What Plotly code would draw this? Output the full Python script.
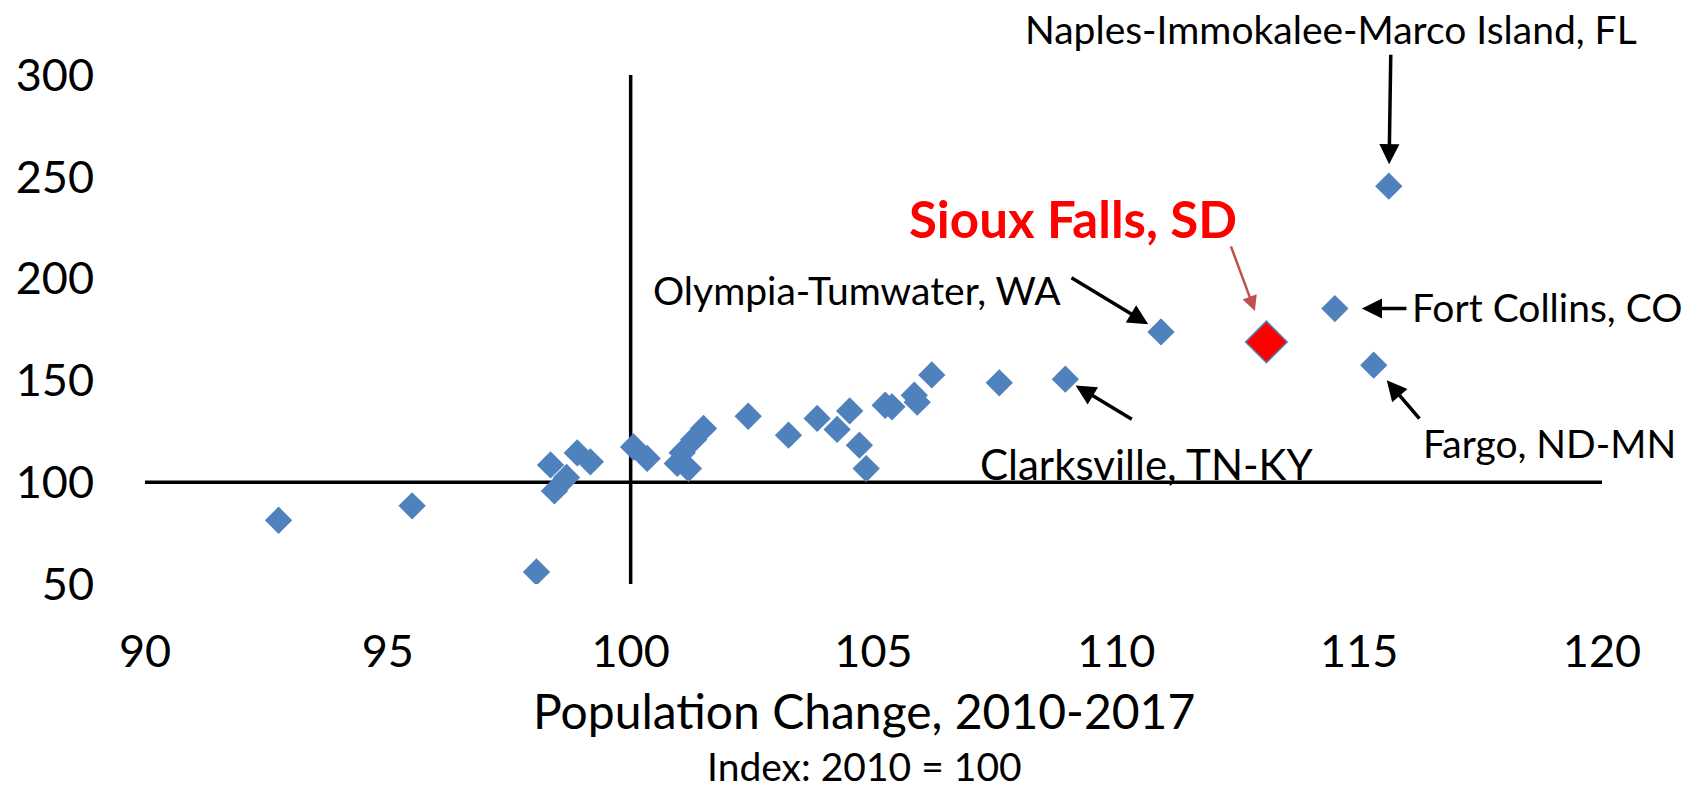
import plotly.graph_objects as go

# ---- data ----
pop_change = [92.75, 95.5, 98.06, 98.35, 98.43, 98.68, 98.9, 99.17, 100.06, 100.34,
              100.96, 101.06, 101.19, 101.3, 101.5, 102.42, 103.25, 103.84, 104.25,
              104.51, 104.71, 104.85, 105.24, 105.38, 105.84, 105.9, 106.2, 107.59,
              108.95, 110.92, 114.5, 115.3, 115.61]
metric_index = [81.3, 88.4, 55.9, 108.5, 95.7, 102.3, 114.4, 110.0, 117.3, 111.7,
                109.2, 114.5, 106.7, 121.0, 126.4, 132.4, 123.1, 131.3, 125.9,
                135.0, 118.2, 106.7, 137.8, 137.0, 142.7, 139.3, 152.7, 148.8,
                150.6, 173.8, 185.3, 157.5, 245.4]

sioux_x = [113.09]
sioux_y = [168.9]

x_ticks = [90, 95, 100, 105, 110, 115, 120]
y_ticks = [50, 100, 150, 200, 250, 300]
x_range = [90, 120]
y_range = [50, 300]
cross_x = 100
cross_y = 100

# labelled metros: name, point x, point y
label_names = ["Naples-Immokalee-Marco Island, FL", "Olympia-Tumwater, WA",
               "Fort Collins, CO", "Fargo, ND-MN", "Clarksville, TN-KY"]
label_pt_x = [115.61, 110.92, 114.5, 115.3, 108.95]
label_pt_y = [245.4, 173.8, 185.3, 157.5, 150.6]

FONT = "Lato, 'Open Sans', sans-serif"
BLUE = "#4F81BD"

fig = go.Figure()
fig.add_trace(go.Scatter(
    x=pop_change, y=metric_index, mode="markers",
    marker=dict(symbol="diamond", size=21, color=BLUE, line=dict(width=0)),
    hoverinfo="skip", showlegend=False))
fig.add_trace(go.Scatter(
    x=sioux_x, y=sioux_y, mode="markers",
    marker=dict(symbol="diamond", size=32, color="#FF0000",
                line=dict(color=BLUE, width=1.5)),
    hoverinfo="skip", showlegend=False))

# crossing axis lines
fig.add_shape(type="line", x0=cross_x, x1=cross_x, y0=y_range[0], y1=y_range[1],
              xref="x", yref="y", line=dict(color="black", width=3.5), layer="below")
fig.add_shape(type="line", x0=x_range[0], x1=x_range[1], y0=cross_y, y1=cross_y,
              xref="x", yref="y", line=dict(color="black", width=3.5), layer="below")

# arrows (pixel offsets of tails, standoff from point)
arrow_ax = [2, -91, 73, 47, 68]
arrow_ay = [-133, -55, 0, 55, 41]
arrow_standoff = [22, 15, 27, 20, 12]
for px, py, ax, ay, so in zip(label_pt_x, label_pt_y, arrow_ax, arrow_ay, arrow_standoff):
    fig.add_annotation(x=px, y=py, xref="x", yref="y", ax=ax, ay=ay, text="",
                       showarrow=True, arrowhead=2, arrowsize=1.15, arrowwidth=3.5,
                       arrowcolor="black", standoff=so)
fig.add_annotation(x=sioux_x[0], y=sioux_y[0], xref="x", yref="y", ax=-36, ay=-97,
                   text="", showarrow=True, arrowhead=2, arrowsize=1.2, arrowwidth=2.5,
                   arrowcolor="#C0504D", standoff=33)

# label texts (positions in paper units)
text_x = [0.8140, 0.4887, 0.8682, 0.8760, 0.5717]
text_y = [1.0904, 0.5776, 0.5442, 0.2770, 0.2348]
text_anchor = ["center", "center", "left", "left", "left"]
text_size = [39, 39, 39, 39, 42]
for name, tx, ty, an, fs in zip(label_names, text_x, text_y, text_anchor, text_size):
    fig.add_annotation(x=tx, y=ty, xref="paper", yref="paper", text=name,
                       showarrow=False, xanchor=an, yanchor="middle",
                       font=dict(family=FONT, size=fs, color="black"))
fig.add_annotation(x=0.6372, y=0.7171, xref="paper", yref="paper",
                   text="<b>Sioux Falls, SD</b>",
                   showarrow=False, xanchor="center", yanchor="middle",
                   font=dict(family=FONT, size=51, color="#FF0000"))

# axis titles
fig.add_annotation(x=0.4935, y=-0.2495, xref="paper", yref="paper",
                   text="Population Change, 2010-2017", showarrow=False,
                   xanchor="center", yanchor="middle",
                   font=dict(family=FONT, size=48, color="black"))
fig.add_annotation(x=0.4935, y=-0.3575, xref="paper", yref="paper",
                   text="Index: 2010 = 100", showarrow=False,
                   xanchor="center", yanchor="middle",
                   font=dict(family=FONT, size=39, color="black"))

fig.update_layout(
    width=1692, height=792,
    margin=dict(l=145, r=90, t=75, b=208),
    paper_bgcolor="white", plot_bgcolor="white",
    showlegend=False,
    xaxis=dict(range=x_range, tickvals=x_ticks, showgrid=False, zeroline=False,
               showline=False, ticks="", ticklabelstandoff=37,
               tickfont=dict(family=FONT, size=45, color="black")),
    yaxis=dict(range=y_range, tickvals=y_ticks, showgrid=False, zeroline=False,
               showline=False, ticks="", ticklabelstandoff=50,
               tickfont=dict(family=FONT, size=45, color="black")),
)

fig.write_html("out.html", config={"displayModeBar": False},
               post_script="document.body.style.margin='0px';")
